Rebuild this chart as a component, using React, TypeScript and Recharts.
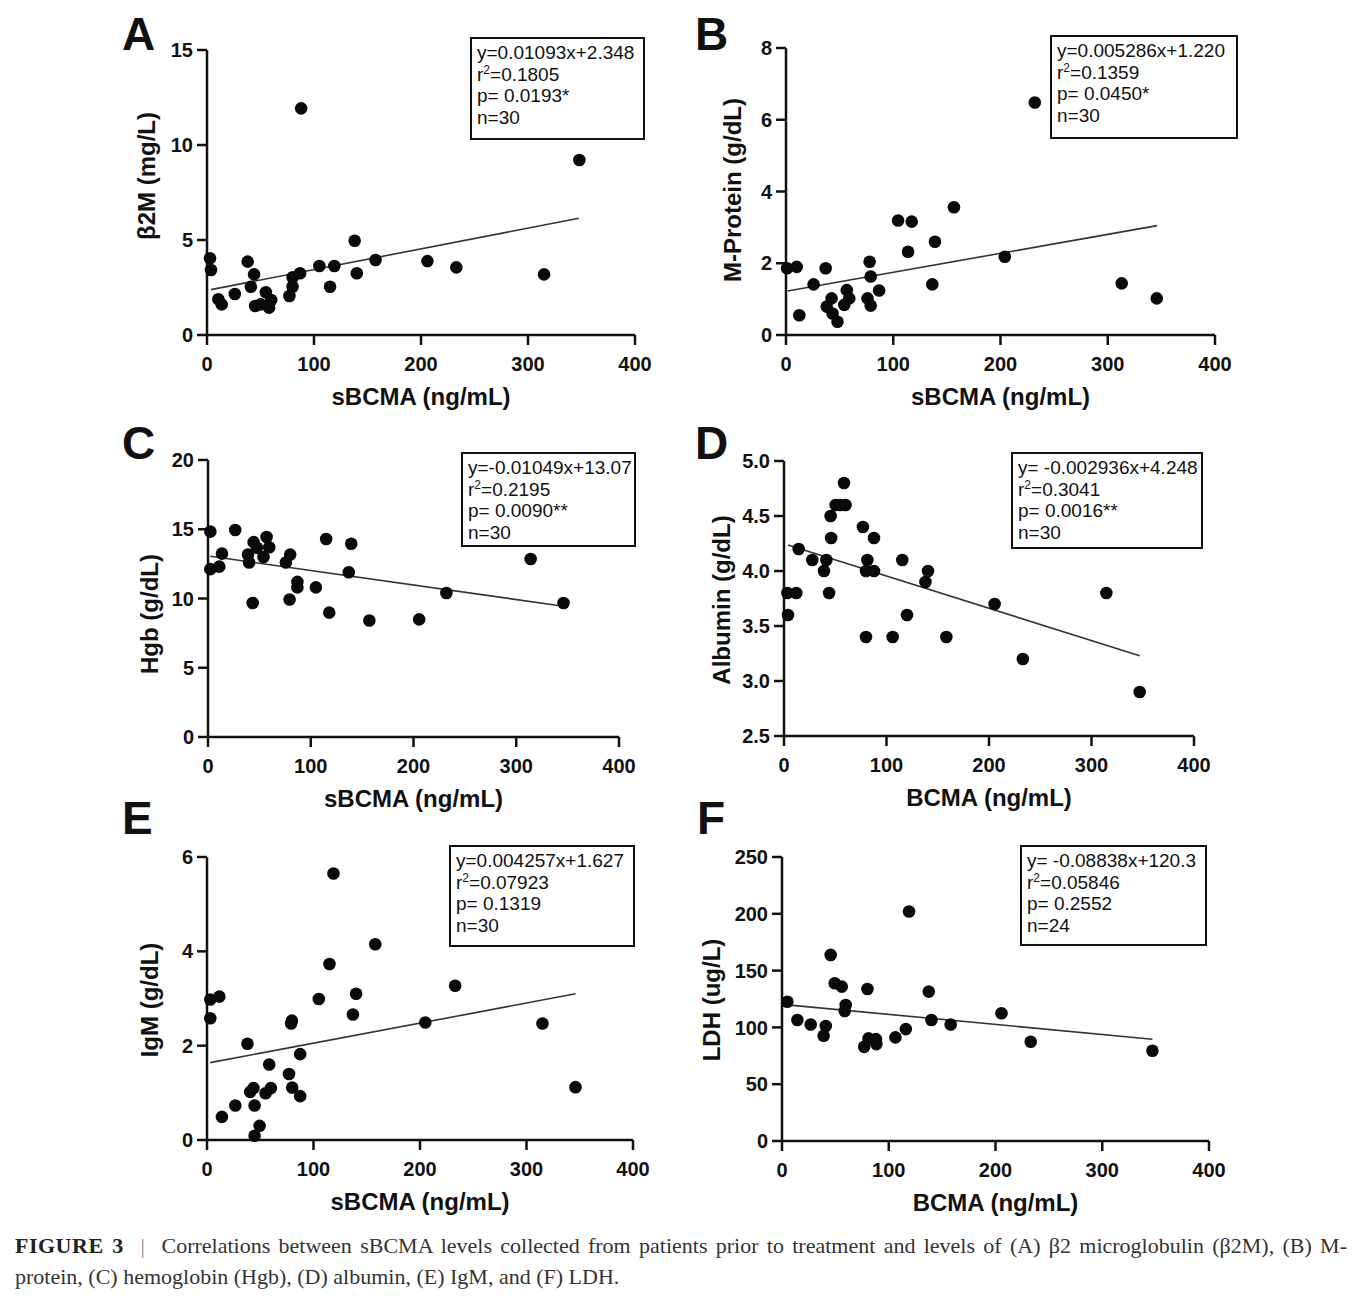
import React from 'react'
import { ScatterChart, Scatter, XAxis, YAxis, ReferenceLine } from 'recharts'

const sans = '"Liberation Sans", Arial, Helvetica, sans-serif'
const serif = '"Liberation Serif", "DejaVu Serif", serif'
const ink = '#111'

const xTicks = [0, 100, 200, 300, 400]

// A - beta2 microglobulin
const b2mPoints = [
  { x: 2.8, y: 4.04 }, { x: 3.75, y: 3.42 }, { x: 10.6, y: 1.88 }, { x: 13.75, y: 1.61 },
  { x: 26, y: 2.16 }, { x: 38, y: 3.86 }, { x: 44, y: 3.19 }, { x: 41, y: 2.54 },
  { x: 45, y: 1.53 }, { x: 50, y: 1.61 }, { x: 55, y: 2.25 }, { x: 60, y: 1.84 },
  { x: 58, y: 1.44 }, { x: 77, y: 2.05 }, { x: 80, y: 2.54 }, { x: 80, y: 3.04 },
  { x: 87, y: 3.25 }, { x: 88, y: 11.93 }, { x: 105, y: 3.63 }, { x: 115, y: 2.54 },
  { x: 119, y: 3.63 }, { x: 138, y: 4.96 }, { x: 140, y: 3.25 }, { x: 157.5, y: 3.95 },
  { x: 206, y: 3.89 }, { x: 233, y: 3.56 }, { x: 315, y: 3.19 }, { x: 348, y: 9.21 },
]
const b2mTicks = [0, 5, 10, 15]
const b2mStats = ['y=0.01093x+2.348', '0.1805', 'p= 0.0193*', 'n=30']

// B - M-protein
const mProteinPoints = [
  { x: 1, y: 1.86 }, { x: 10, y: 1.9 }, { x: 12.4, y: 0.55 }, { x: 25.7, y: 1.41 },
  { x: 37, y: 1.86 }, { x: 38, y: 0.79 }, { x: 42.5, y: 1.02 }, { x: 43.4, y: 0.6 },
  { x: 48, y: 0.37 }, { x: 54.3, y: 0.84 }, { x: 56.7, y: 1.25 }, { x: 59, y: 1.02 },
  { x: 76, y: 1.02 }, { x: 78, y: 2.04 }, { x: 79, y: 1.63 }, { x: 79, y: 0.82 },
  { x: 86.8, y: 1.24 }, { x: 104.5, y: 3.19 }, { x: 113.8, y: 2.32 }, { x: 117.2, y: 3.16 },
  { x: 136.4, y: 1.41 }, { x: 138.9, y: 2.6 }, { x: 156.6, y: 3.56 }, { x: 204, y: 2.18 },
  { x: 232, y: 6.48 }, { x: 313, y: 1.44 }, { x: 345.7, y: 1.02 },
]
const mProteinTicks = [0, 2, 4, 6, 8]
const mProteinStats = ['y=0.005286x+1.220', '0.1359', 'p= 0.0450*', 'n=30']

// C - hemoglobin
const hgbPoints = [
  { x: 2.3, y: 14.83 }, { x: 2.3, y: 12.12 }, { x: 11, y: 12.3 }, { x: 13.6, y: 13.24 },
  { x: 26.5, y: 14.95 }, { x: 38.9, y: 13.17 }, { x: 40, y: 12.6 }, { x: 43.5, y: 9.68 },
  { x: 44.4, y: 14.07 }, { x: 47.6, y: 13.66 }, { x: 54, y: 13 }, { x: 57, y: 14.44 },
  { x: 59.6, y: 13.7 }, { x: 75.8, y: 12.6 }, { x: 80, y: 13.17 }, { x: 79.4, y: 9.93 },
  { x: 87, y: 11.2 }, { x: 87, y: 10.8 }, { x: 105, y: 10.8 }, { x: 115, y: 14.3 },
  { x: 118, y: 8.98 }, { x: 137, y: 11.9 }, { x: 139.4, y: 13.95 }, { x: 157, y: 8.41 },
  { x: 205.5, y: 8.49 }, { x: 232, y: 10.4 }, { x: 314, y: 12.85 }, { x: 346, y: 9.68 },
]
const hgbTicks = [0, 5, 10, 15, 20]
const hgbStats = ['y=-0.01049x+13.07', '0.2195', 'p= 0.0090**', 'n=30']

// D - albumin
const albuminPoints = [
  { x: 3.3, y: 3.8 }, { x: 12, y: 3.8 }, { x: 3.9, y: 3.6 }, { x: 14.3, y: 4.2 },
  { x: 27.6, y: 4.1 }, { x: 39, y: 4.0 }, { x: 41.3, y: 4.1 }, { x: 44, y: 3.8 },
  { x: 46, y: 4.3 }, { x: 45.5, y: 4.5 }, { x: 50.4, y: 4.6 }, { x: 55, y: 4.6 },
  { x: 60, y: 4.6 }, { x: 58.5, y: 4.8 }, { x: 77, y: 4.4 }, { x: 80, y: 4.0 },
  { x: 81.3, y: 4.1 }, { x: 80, y: 3.4 }, { x: 87.8, y: 4.3 }, { x: 87.8, y: 4.0 },
  { x: 106, y: 3.4 }, { x: 115.4, y: 4.1 }, { x: 120, y: 3.6 }, { x: 138, y: 3.9 },
  { x: 140.5, y: 4.0 }, { x: 158.4, y: 3.4 }, { x: 205.5, y: 3.7 }, { x: 233, y: 3.2 },
  { x: 314.5, y: 3.8 }, { x: 347, y: 2.9 },
]
const albuminTicks = [2.5, 3.0, 3.5, 4.0, 4.5, 5.0]
const albuminStats = ['y= -0.002936x+4.248', '0.3041', 'p= 0.0016**', 'n=30']

// E - IgM
const igmPoints = [
  { x: 3.1, y: 2.98 }, { x: 11.6, y: 3.04 }, { x: 3.1, y: 2.58 }, { x: 14, y: 0.49 },
  { x: 26.6, y: 0.73 }, { x: 38, y: 2.04 }, { x: 40.6, y: 1.02 }, { x: 43.7, y: 1.1 },
  { x: 44.7, y: 0.73 }, { x: 49.4, y: 0.3 }, { x: 44.7, y: 0.09 }, { x: 55, y: 0.99 },
  { x: 60, y: 1.1 }, { x: 58.4, y: 1.6 }, { x: 77, y: 1.4 }, { x: 79.7, y: 2.53 },
  { x: 79, y: 2.47 }, { x: 80, y: 1.11 }, { x: 87.5, y: 1.82 }, { x: 87.5, y: 0.93 },
  { x: 105, y: 2.99 }, { x: 115, y: 3.73 }, { x: 118.75, y: 5.65 }, { x: 137, y: 2.66 },
  { x: 140, y: 3.1 }, { x: 158, y: 4.15 }, { x: 205, y: 2.49 }, { x: 233, y: 3.27 },
  { x: 315, y: 2.47 }, { x: 346, y: 1.12 },
]
const igmTicks = [0, 2, 4, 6]
const igmStats = ['y=0.004257x+1.627', '0.07923', 'p= 0.1319', 'n=30']

// F - LDH
const ldhPoints = [
  { x: 5, y: 122.6 }, { x: 14.4, y: 106.5 }, { x: 26.9, y: 102.6 }, { x: 41, y: 101.2 },
  { x: 39, y: 92.6 }, { x: 45.6, y: 163.8 }, { x: 49.4, y: 138.8 }, { x: 56, y: 135.9 },
  { x: 59.7, y: 119.7 }, { x: 58.75, y: 114.4 }, { x: 80, y: 133.8 }, { x: 77, y: 82.9 },
  { x: 81, y: 90.3 }, { x: 88, y: 89.7 }, { x: 88.4, y: 85.3 }, { x: 106.25, y: 91.2 },
  { x: 116, y: 98.5 }, { x: 119, y: 202 }, { x: 137.5, y: 131.5 }, { x: 140, y: 106.5 },
  { x: 158, y: 102.6 }, { x: 205.6, y: 112.4 }, { x: 233, y: 87.4 }, { x: 347, y: 79.4 },
]
const ldhTicks = [0, 50, 100, 150, 200, 250]
const ldhStats = ['y= -0.08838x+120.3', '0.05846', 'p= 0.2552', 'n=24']

const panels = [
  {
    letter: 'A', letterPos: [122, 50], points: b2mPoints, ticks: b2mTicks,
    fit: { slope: 0.01093, intercept: 2.348, from: 3.75, to: 347.5 },
    plot: { x0: 207, x1: 635, top: 50, bottom: 335 },
    yTitle: 'β2M (mg/L)', yTitlePos: [147, 176], xTitle: 'sBCMA (ng/mL)',
    stats: b2mStats, box: [470, 37, 175, 103],
  },
  {
    letter: 'B', letterPos: [695, 50], points: mProteinPoints, ticks: mProteinTicks,
    fit: { slope: 0.005286, intercept: 1.22, from: 1.5, to: 346 },
    plot: { x0: 786, x1: 1215, top: 48, bottom: 335 },
    yTitle: 'M-Protein (g/dL)', yTitlePos: [733, 190], xTitle: 'sBCMA (ng/mL)',
    stats: mProteinStats, box: [1050, 35, 188, 104],
  },
  {
    letter: 'C', letterPos: [122, 459], points: hgbPoints, ticks: hgbTicks,
    fit: { slope: -0.01049, intercept: 13.07, from: 2.3, to: 347.5 },
    plot: { x0: 208, x1: 619, top: 460, bottom: 737 },
    yTitle: 'Hgb (g/dL)', yTitlePos: [150, 614], xTitle: 'sBCMA (ng/mL)',
    stats: hgbStats, box: [461, 452, 175, 95],
  },
  {
    letter: 'D', letterPos: [695, 459], points: albuminPoints, ticks: albuminTicks,
    fit: { slope: -0.002936, intercept: 4.248, from: 3.9, to: 347 },
    plot: { x0: 784, x1: 1194, top: 461, bottom: 736 },
    yTitle: 'Albumin (g/dL)', yTitlePos: [722, 600], xTitle: 'BCMA (ng/mL)',
    stats: albuminStats, box: [1011, 452, 192, 97], decimals: 1,
  },
  {
    letter: 'E', letterPos: [122, 834], points: igmPoints, ticks: igmTicks,
    fit: { slope: 0.004257, intercept: 1.627, from: 3, to: 346 },
    plot: { x0: 207, x1: 633, top: 857, bottom: 1140 },
    yTitle: 'IgM (g/dL)', yTitlePos: [150, 1000], xTitle: 'sBCMA (ng/mL)',
    stats: igmStats, box: [449, 845, 186, 102],
  },
  {
    letter: 'F', letterPos: [697, 834], points: ldhPoints, ticks: ldhTicks,
    fit: { slope: -0.08838, intercept: 120.3, from: 5, to: 347 },
    plot: { x0: 782, x1: 1209, top: 857, bottom: 1141 },
    yTitle: 'LDH (ug/L)', yTitlePos: [712, 1000], xTitle: 'BCMA (ng/mL)',
    stats: ldhStats, box: [1020, 845, 187, 101],
  },
]

const axisStroke = { stroke: ink, strokeWidth: 2.5 }
const tickFont = { fill: ink, fontSize: 20, fontWeight: 700, fontFamily: sans }

const Dot = (props: any) => <circle cx={props.cx} cy={props.cy} r={6.3} fill="#0a0a0a" />

function Panel({ p }: { p: any }) {
  const yAxisW = 80
  const mTop = 14
  const mRight = 24
  const xAxisH = 44
  const plotW = p.plot.x1 - p.plot.x0
  const plotH = p.plot.bottom - p.plot.top
  const width = yAxisW + plotW + mRight
  const height = mTop + plotH + xAxisH
  const domainY = [p.ticks[0], p.ticks[p.ticks.length - 1]]
  const fitSeg = [
    { x: p.fit.from, y: p.fit.slope * p.fit.from + p.fit.intercept },
    { x: p.fit.to, y: p.fit.slope * p.fit.to + p.fit.intercept },
  ]
  const [bl, bt, bw, bh] = p.box

  return (
    <>
      <div style={{ position: 'absolute', left: p.plot.x0 - yAxisW, top: p.plot.top - mTop }}>
        <ScatterChart width={width} height={height} margin={{ top: mTop, right: mRight, bottom: 0, left: 0 }}>
          <XAxis
            type="number"
            dataKey="x"
            domain={[0, 400]}
            ticks={xTicks}
            interval={0}
            height={xAxisH}
            tickSize={10}
            tickMargin={12}
            axisLine={axisStroke}
            tickLine={axisStroke}
            tick={tickFont}
          />
          <YAxis
            type="number"
            dataKey="y"
            domain={domainY}
            ticks={p.ticks}
            interval={0}
            width={yAxisW}
            tickSize={10}
            tickMargin={4}
            axisLine={axisStroke}
            tickLine={axisStroke}
            tick={tickFont}
            tickFormatter={(v: number) => (p.decimals ? v.toFixed(p.decimals) : String(v))}
          />
          <ReferenceLine segment={fitSeg} stroke="#333" strokeWidth={1.6} ifOverflow="visible" />
          <Scatter data={p.points} shape={Dot} isAnimationActive={false} />
        </ScatterChart>
      </div>

      <div
        style={{
          position: 'absolute', left: p.letterPos[0], top: p.letterPos[1] - 39,
          fontSize: 46, lineHeight: '46px', fontWeight: 700, fontFamily: sans, color: ink,
        }}
      >
        {p.letter}
      </div>

      <div
        style={{
          position: 'absolute', left: p.yTitlePos[0], top: p.yTitlePos[1],
          transform: 'translate(-50%, -50%) rotate(-90deg)', whiteSpace: 'nowrap',
          fontSize: 24, fontWeight: 700, fontFamily: sans, color: ink,
        }}
      >
        {p.yTitle}
      </div>

      <div
        style={{
          position: 'absolute', left: (p.plot.x0 + p.plot.x1) / 2, top: p.plot.bottom + 62,
          transform: 'translate(-50%, -50%)', whiteSpace: 'nowrap',
          fontSize: 24, fontWeight: 700, fontFamily: sans, color: ink,
        }}
      >
        {p.xTitle}
      </div>

      <div
        style={{
          position: 'absolute', left: bl, top: bt, width: bw, height: bh, boxSizing: 'border-box',
          border: `2.5px solid ${ink}`, padding: '3px 0 0 5px', background: '#fff',
          fontFamily: sans, fontSize: 19, lineHeight: '21.5px', color: ink, whiteSpace: 'nowrap',
        }}
      >
        <div>{p.stats[0]}</div>
        <div>
          r<sup style={{ fontSize: 12, lineHeight: 0, verticalAlign: '7px' }}>2</sup>={p.stats[1]}
        </div>
        <div>{p.stats[2]}</div>
        <div>{p.stats[3]}</div>
      </div>
    </>
  )
}

export default function App() {
  return (
    <div style={{ position: 'absolute', left: 0, top: 0, width: 1362, height: 1304, background: '#fff', overflow: 'hidden' }}>
      {panels.map((p) => (
        <Panel key={p.letter} p={p} />
      ))}
      <div
        style={{
          position: 'absolute', left: 15, top: 1230, width: 1332,
          fontFamily: serif, fontSize: 22, lineHeight: '31px', color: '#333',
        }}
      >
        <div style={{ textAlign: 'justify', textAlignLast: 'justify' }}>
          <b style={{ color: '#222', letterSpacing: 0.5 }}>FIGURE 3</b>
          <span style={{ color: '#888' }}>&nbsp;&nbsp;|&nbsp;&nbsp;</span>
          Correlations between sBCMA levels collected from patients prior to treatment and levels of (A) β2 microglobulin (β2M), (B) M-
        </div>
        <div>protein, (C) hemoglobin (Hgb), (D) albumin, (E) IgM, and (F) LDH.</div>
      </div>
    </div>
  )
}
